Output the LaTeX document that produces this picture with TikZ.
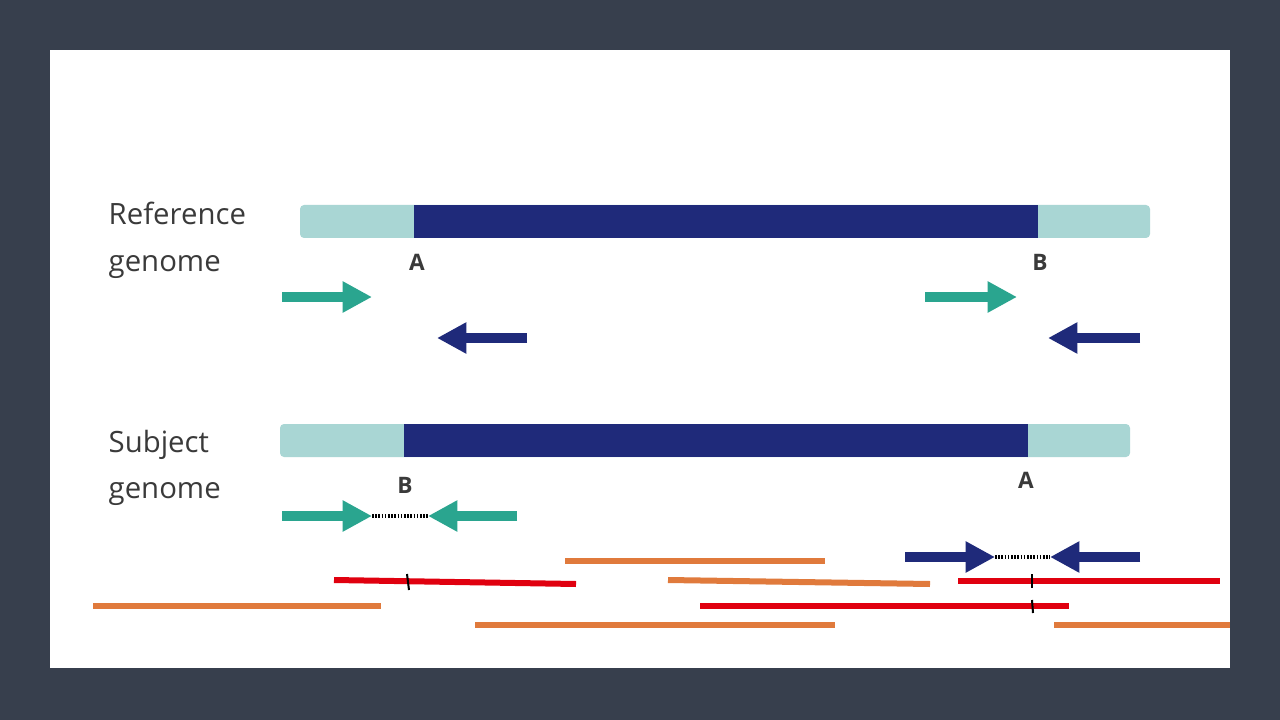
\documentclass[tikz,border=0pt]{standalone}
\usepackage{fontspec}
\setmainfont{Open Sans}
\usetikzlibrary{arrows.meta}
\definecolor{bgc}{HTML}{373F4D}
\definecolor{lcy}{HTML}{A9D6D4}
\definecolor{navy}{HTML}{1F2A7A}
\definecolor{teal}{HTML}{2AA58F}
\definecolor{org}{HTML}{E07A3C}
\definecolor{rd}{HTML}{E0000F}
\definecolor{txt}{HTML}{3A3A3A}
\tikzset{
 teala/.style={teal,line width=7pt,-{Triangle[length=22pt,width=22pt]}},
 navya/.style={navy,line width=7pt,-{Triangle[length=22pt,width=22pt]}},
 dots/.style={black,line width=2.5pt,dash pattern=on 1.2pt off 1.2pt},
 orl/.style={org,line width=4.5pt},
 rdl/.style={rd,line width=4.5pt},
 lbl/.style={font=\fontsize{22}{35}\selectfont,text=txt,align=left,anchor=west},
 let/.style={font=\fontsize{17}{20}\selectfont\bfseries,text=txt}
}
\begin{document}
\begin{tikzpicture}[x=0.75pt,y=-0.75pt]
\fill[bgc] (0,0) rectangle (1280,720);
\fill[white] (50,50) rectangle (1230,668);
% reference genome
\fill[lcy,rounded corners=3pt] (300,205) rectangle (1150,238);
\fill[navy] (414,205) rectangle (1038,238);
\node[lbl] (rl) at (104,240) {Reference\\genome};
\node[let] (ra) at (417,262) {A};
\node[let] (rb) at (1040,262) {B};
\draw[teala] (282,297) -- (372,297);
\draw[navya] (527,338) -- (437,338);
\draw[teala] (925,297) -- (1017,297);
\draw[navya] (1140,338) -- (1048,338);
% subject genome
\fill[lcy,rounded corners=3pt] (280,424) rectangle (1130,457);
\fill[navy] (404,424) rectangle (1028,457);
\node[lbl] (sl) at (104,468) {Subject\\genome};
\node[let] (sb) at (405,485) {B};
\node[let] (sa) at (1026,480) {A};
\draw[teala] (282,516) -- (372,516);
\draw[teala] (517,516) -- (428,516);
\draw[dots] (372,516) -- (428,516);
\draw[navya] (905,557) -- (995,557);
\draw[navya] (1140,557) -- (1050,557);
\draw[dots] (995,557) -- (1050,557);
% reads
\draw[orl] (565,561) -- (825,561);
\draw[rdl] (334,580) -- (576,584);
\draw[orl] (668,580) -- (930,584);
\draw[rdl] (958,581) -- (1220,581);
\draw[orl] (93,606) -- (381,606);
\draw[rdl] (700,606) -- (1069,606);
\draw[orl] (475,625) -- (835,625);
\draw[orl] (1054,625) -- (1230,625);
\draw[black,line width=1.5pt] (407,574) -- (409,590);
\draw[black,line width=1.5pt] (1032,574) -- (1032,588);
\draw[black,line width=1.5pt] (1032,600) -- (1033,613);
\end{tikzpicture}
\end{document}
